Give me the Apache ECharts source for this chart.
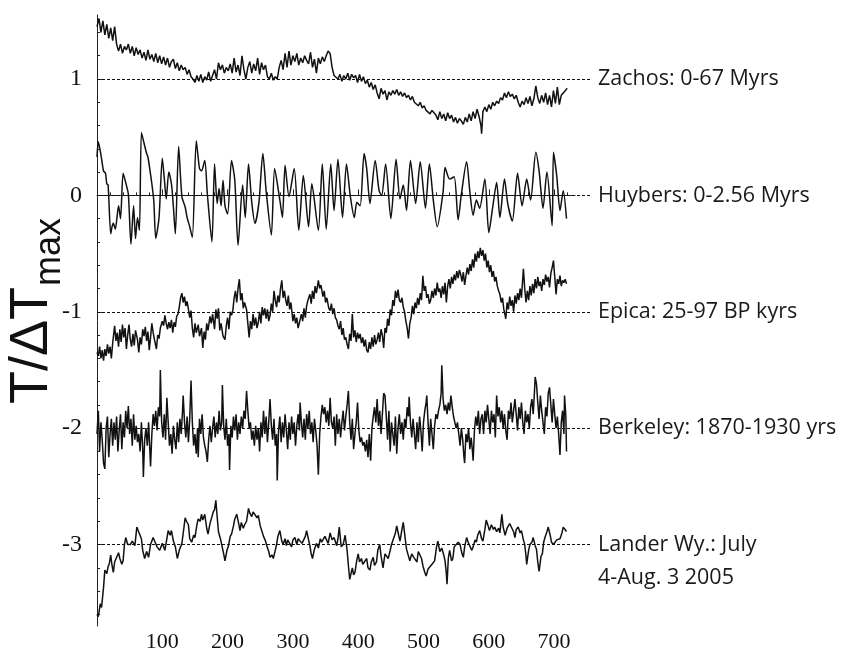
<!DOCTYPE html>
<html><head><meta charset="utf-8">
<script src="https://cdn.jsdelivr.net/npm/echarts@6/dist/echarts.min.js"></script>
<style>html,body{margin:0;padding:0;background:#fff}#c{width:841px;height:657px}</style>
</head><body><div id="c"></div><script>
const seriesNames = ['Zachos: 0-67 Myrs','Huybers: 0-2.56 Myrs','Epica: 25-97 BP kyrs','Berkeley: 1870-1930 yrs',' \nLander Wy.: July\n4-Aug. 3 2005'];
const refLevels = [1, 0, -1, -2, -3];
const xTickLabels = [100, 200, 300, 400, 500, 600, 700];
const yTickLabels = [1, 0, -1, -2, -3];

const zachos = [[0,1.45],[3,1.52],[6,1.40],[9,1.50],[12,1.38],[15,1.47],[18,1.35],[21,1.44],[24,1.33],[27,1.45],[30,1.30],[33,1.24],[36,1.30],[39,1.22],[42,1.28],[45,1.25],[48,1.30],[51,1.22],[54,1.28],[57,1.20],[60,1.27],[63,1.21],[66,1.25],[69,1.18],[72,1.23],[75,1.16],[78,1.25],[81,1.17],[84,1.21],[87,1.15],[90,1.22],[93,1.14],[96,1.20],[99,1.13],[102,1.19],[105,1.12],[108,1.18],[111,1.10],[114,1.15],[117,1.17],[120,1.09],[123,1.14],[126,1.07],[129,1.12],[132,1.08],[135,1.10],[138,1.04],[141,1.08],[144,1.02],[147,1.00],[150,0.97],[153,1.03],[156,0.98],[159,1.04],[162,0.97],[165,1.02],[168,0.99],[171,1.06],[174,0.98],[177,1.03],[180,1.08],[183,1.00],[186,1.14],[189,1.08],[192,1.12],[195,1.05],[198,1.10],[201,1.07],[204,1.13],[207,1.05],[210,1.18],[213,1.06],[216,1.12],[219,1.03],[222,1.20],[225,1.08],[228,1.00],[231,1.10],[234,1.15],[237,1.05],[240,1.13],[243,1.07],[246,1.18],[249,1.04],[252,1.14],[255,1.08],[258,1.12],[261,1.02],[264,1.00],[267,1.05],[270,0.99],[273,1.02],[276,1.00],[279,1.10],[282,1.16],[285,1.08],[288,1.22],[291,1.10],[294,1.24],[297,1.12],[300,1.20],[303,1.15],[306,1.22],[309,1.12],[312,1.18],[315,1.14],[318,1.20],[321,1.16],[324,1.13],[327,1.23],[330,1.10],[333,1.17],[336,1.05],[339,1.18],[342,1.13],[345,1.19],[348,1.15],[351,1.20],[354,1.24],[357,1.22],[360,1.10],[363,1.03],[366,1.02],[369,1.00],[372,1.04],[375,0.98],[378,1.03],[381,1.00],[384,1.05],[387,0.99],[390,1.04],[393,1.01],[396,1.03],[399,0.97],[402,1.04],[405,0.98],[408,1.02],[411,0.96],[414,0.99],[417,0.93],[420,0.97],[423,0.91],[426,0.95],[429,0.88],[432,0.83],[435,0.92],[438,0.87],[441,0.90],[444,0.82],[447,0.89],[450,0.86],[453,0.90],[456,0.87],[459,0.91],[462,0.86],[465,0.89],[468,0.85],[471,0.88],[474,0.84],[477,0.86],[480,0.82],[483,0.85],[486,0.80],[489,0.81],[492,0.77],[495,0.80],[498,0.75],[501,0.77],[504,0.73],[507,0.74],[510,0.70],[513,0.73],[516,0.71],[519,0.69],[522,0.65],[525,0.72],[528,0.66],[531,0.70],[534,0.64],[537,0.71],[540,0.66],[543,0.69],[546,0.63],[549,0.67],[552,0.62],[555,0.66],[558,0.64],[561,0.61],[564,0.67],[567,0.63],[570,0.70],[573,0.64],[576,0.72],[579,0.66],[582,0.74],[585,0.68],[588,0.60],[589,0.53],[591,0.72],[594,0.76],[597,0.72],[600,0.78],[603,0.74],[606,0.80],[609,0.77],[612,0.81],[615,0.79],[618,0.84],[621,0.82],[624,0.88],[627,0.84],[630,0.89],[633,0.85],[636,0.87],[639,0.83],[642,0.86],[645,0.80],[648,0.76],[651,0.81],[654,0.78],[657,0.84],[660,0.79],[663,0.85],[666,0.77],[669,0.83],[672,0.94],[675,0.84],[678,0.79],[681,0.86],[684,0.80],[687,0.88],[690,0.78],[693,0.86],[696,0.76],[699,0.90],[702,0.79],[705,0.93],[708,0.78],[711,0.86],[714,0.88],[717,0.90],[720,0.92]];

const huybers = [[0,0.33],[2,0.46],[6,0.35],[10,0.21],[13,0.19],[15,0.10],[17,0.09],[21,-0.33],[23,-0.27],[25,-0.24],[28,-0.29],[33,-0.09],[36,-0.20],[40,0.19],[44,0.11],[48,0.01],[52,-0.42],[56,-0.09],[59,-0.37],[62,-0.19],[65,-0.30],[68,0.54],[72,0.45],[76,0.36],[78,0.33],[81,0.22],[84,0.10],[87,-0.05],[90,-0.37],[95,-0.19],[100,0.32],[103,0.15],[106,-0.03],[110,0.20],[114,0.10],[117,-0.10],[120,-0.33],[125,0.42],[130,-0.01],[135,-0.10],[138,-0.19],[142,-0.27],[146,-0.36],[152,0.47],[157,0.23],[160,0.21],[165,0.30],[169,0.01],[176,-0.40],[180,0.27],[184,-0.07],[187,0.06],[190,-0.09],[193,0.13],[196,-0.09],[200,-0.16],[206,0.30],[211,0.13],[216,-0.43],[223,0.09],[227,-0.19],[232,0.27],[237,-0.06],[242,-0.24],[248,-0.06],[254,0.36],[259,0.04],[267,-0.34],[272,0.23],[280,-0.04],[284,-0.19],[288,0.26],[294,-0.01],[302,0.23],[309,-0.30],[316,0.17],[324,-0.27],[329,0.10],[339,-0.30],[345,0.27],[351,-0.29],[358,0.27],[363,-0.13],[369,0.31],[376,-0.19],[382,0.27],[388,-0.01],[394,-0.19],[398,-0.06],[403,-0.09],[409,0.36],[413,0.23],[418,-0.07],[426,0.30],[432,0.04],[436,0.00],[442,0.27],[450,-0.20],[458,0.31],[464,-0.03],[469,0.09],[474,-0.13],[480,0.30],[488,-0.07],[495,0.29],[503,-0.11],[509,0.27],[515,-0.04],[521,-0.27],[530,0.03],[533,0.24],[540,0.14],[547,0.16],[553,-0.21],[558,0.01],[566,0.29],[571,0.03],[576,-0.17],[581,-0.04],[586,-0.11],[594,0.14],[600,-0.32],[606,-0.10],[612,0.11],[617,-0.19],[624,0.14],[629,-0.07],[636,-0.22],[644,0.19],[651,-0.09],[658,0.14],[664,-0.04],[672,0.37],[677,0.21],[683,-0.11],[689,0.20],[697,-0.26],[699,0.37],[704,0.17],[709,-0.13],[714,0.04],[719,-0.20]];

const epica = [[0,-1.35],[2,-1.38],[4,-1.30],[6,-1.40],[8,-1.33],[10,-1.42],[12,-1.32],[14,-1.38],[16,-1.28],[18,-1.36],[20,-1.30],[22,-1.40],[24,-1.27],[27,-1.12],[29,-1.25],[31,-1.18],[33,-1.30],[35,-1.15],[37,-1.26],[39,-1.11],[41,-1.22],[43,-1.14],[45,-1.32],[47,-1.20],[49,-1.11],[51,-1.24],[53,-1.30],[55,-1.19],[57,-1.29],[59,-1.16],[62,-1.24],[64,-1.35],[66,-1.22],[68,-1.28],[70,-1.15],[72,-1.21],[74,-1.13],[76,-1.25],[78,-1.17],[80,-1.33],[82,-1.22],[84,-1.10],[86,-1.18],[88,-1.24],[91,-1.32],[93,-1.20],[95,-1.23],[97,-1.14],[100,-1.08],[102,-1.12],[104,-1.03],[106,-1.10],[108,-1.15],[110,-1.09],[112,-1.14],[114,-1.07],[116,-1.18],[118,-1.09],[120,-1.13],[122,-1.04],[124,-1.02],[126,-0.96],[128,-0.88],[130,-0.84],[132,-0.92],[134,-0.87],[136,-0.95],[138,-0.91],[140,-0.98],[142,-1.05],[144,-0.99],[146,-1.14],[148,-1.22],[150,-1.10],[152,-1.18],[155,-1.11],[157,-1.21],[160,-1.14],[162,-1.31],[164,-1.17],[166,-1.24],[168,-1.10],[170,-1.16],[173,-1.04],[175,-1.10],[177,-1.02],[180,-1.15],[182,-0.98],[184,-1.06],[186,-0.97],[188,-1.16],[190,-1.10],[193,-1.21],[196,-1.24],[198,-1.12],[200,-1.05],[202,-1.15],[204,-1.00],[206,-1.03],[208,-0.99],[210,-0.88],[212,-0.82],[214,-0.92],[216,-0.80],[218,-0.72],[220,-0.90],[222,-0.84],[224,-0.97],[226,-0.92],[229,-0.98],[231,-1.10],[233,-1.22],[235,-1.08],[237,-1.15],[239,-1.02],[241,-1.12],[243,-1.05],[245,-1.14],[247,-1.09],[249,-1.00],[251,-1.10],[253,-0.96],[255,-1.03],[257,-0.97],[259,-1.06],[261,-0.98],[263,-1.08],[265,-1.03],[267,-0.93],[269,-1.00],[271,-0.82],[273,-0.90],[275,-0.96],[277,-0.86],[279,-0.92],[281,-0.80],[283,-0.73],[285,-0.88],[287,-0.82],[289,-0.90],[291,-0.95],[293,-0.86],[295,-0.98],[297,-0.92],[300,-1.08],[302,-1.02],[304,-1.10],[306,-1.05],[308,-1.14],[311,-1.13],[313,-1.02],[315,-1.08],[317,-0.97],[319,-1.05],[321,-0.95],[323,-0.90],[326,-0.85],[328,-0.93],[330,-0.82],[332,-0.89],[334,-0.78],[336,-0.84],[339,-0.73],[341,-0.80],[343,-0.77],[346,-0.87],[348,-0.82],[350,-0.92],[352,-0.88],[355,-0.97],[357,-0.99],[359,-0.93],[361,-1.02],[363,-0.97],[365,-1.05],[367,-1.07],[369,-1.12],[371,-1.15],[373,-1.08],[375,-1.20],[377,-1.14],[379,-1.24],[381,-1.22],[383,-1.28],[385,-1.32],[387,-1.19],[389,-1.25],[391,-1.02],[393,-1.22],[395,-1.16],[397,-1.26],[399,-1.18],[401,-1.23],[403,-1.19],[405,-1.27],[407,-1.22],[409,-1.30],[411,-1.24],[413,-1.33],[415,-1.35],[417,-1.26],[419,-1.32],[421,-1.22],[423,-1.30],[425,-1.20],[427,-1.28],[429,-1.24],[431,-1.18],[433,-1.26],[435,-1.15],[437,-1.20],[439,-1.31],[441,-1.14],[443,-1.18],[445,-1.06],[447,-1.12],[449,-0.98],[451,-1.03],[453,-0.90],[455,-0.95],[457,-0.82],[459,-0.88],[461,-0.81],[463,-0.90],[465,-0.92],[467,-0.88],[469,-0.96],[471,-1.00],[473,-1.08],[475,-1.14],[477,-1.23],[479,-1.10],[481,-1.05],[483,-0.95],[485,-1.02],[487,-0.92],[489,-0.97],[491,-0.88],[493,-0.94],[495,-0.84],[497,-0.90],[499,-0.69],[501,-0.82],[503,-0.78],[505,-0.88],[507,-0.85],[509,-0.93],[511,-0.90],[513,-0.82],[515,-0.88],[517,-0.80],[519,-0.86],[521,-0.75],[523,-0.83],[525,-0.80],[527,-0.88],[529,-0.78],[531,-0.85],[533,-0.75],[535,-0.92],[537,-0.78],[539,-0.72],[541,-0.80],[543,-0.70],[545,-0.76],[547,-0.68],[549,-0.73],[551,-0.65],[553,-0.71],[555,-0.64],[557,-0.68],[559,-0.74],[561,-0.66],[563,-0.77],[565,-0.69],[567,-0.62],[569,-0.68],[571,-0.59],[573,-0.65],[575,-0.55],[577,-0.62],[579,-0.50],[581,-0.57],[583,-0.48],[585,-0.54],[587,-0.45],[589,-0.52],[591,-0.47],[593,-0.56],[595,-0.50],[597,-0.62],[599,-0.56],[601,-0.66],[603,-0.60],[605,-0.70],[607,-0.65],[609,-0.74],[611,-0.70],[613,-0.78],[615,-0.82],[617,-0.85],[619,-0.92],[621,-0.88],[623,-0.98],[625,-1.03],[626,-1.06],[628,-0.92],[630,-0.98],[632,-0.87],[634,-0.95],[636,-0.90],[638,-1.00],[640,-0.86],[642,-0.93],[644,-0.84],[646,-0.90],[648,-0.80],[650,-0.88],[653,-0.63],[655,-0.80],[657,-0.92],[659,-0.82],[661,-0.90],[663,-0.78],[665,-0.86],[667,-0.76],[669,-0.84],[671,-0.72],[673,-0.80],[675,-0.70],[677,-0.78],[679,-0.74],[681,-0.82],[683,-0.72],[685,-0.77],[687,-0.68],[689,-0.74],[691,-0.70],[693,-0.79],[695,-0.67],[697,-0.62],[699,-0.56],[701,-0.70],[703,-0.85],[705,-0.72],[707,-0.76],[709,-0.69],[711,-0.78],[713,-0.73],[715,-0.75],[717,-0.72],[719,-0.76]];

const berkeley = [[0,-2.05],[2,-1.85],[4,-2.20],[6,-1.95],[8,-2.10],[10,-2.30],[12,-2.35],[14,-2.00],[16,-1.90],[18,-2.25],[20,-2.05],[22,-1.92],[24,-2.15],[26,-1.95],[28,-2.10],[30,-1.90],[32,-2.20],[34,-2.02],[36,-1.88],[38,-2.18],[40,-1.95],[42,-2.08],[44,-1.85],[46,-2.00],[48,-1.81],[50,-2.05],[52,-1.92],[54,-2.15],[56,-1.88],[58,-2.10],[60,-1.98],[62,-2.12],[64,-2.05],[66,-2.20],[68,-1.95],[70,-2.18],[71,-2.42],[73,-2.10],[75,-2.00],[77,-2.15],[79,-1.95],[81,-2.20],[82,-2.33],[84,-2.05],[86,-1.88],[88,-1.98],[90,-1.85],[92,-2.02],[94,-1.82],[96,-1.90],[97,-1.50],[99,-1.95],[101,-2.08],[103,-1.88],[105,-2.10],[107,-1.74],[109,-1.95],[111,-2.15],[113,-2.05],[115,-2.22],[117,-1.98],[119,-2.10],[121,-2.18],[123,-1.95],[125,-2.12],[127,-1.92],[129,-2.05],[131,-1.85],[132,-1.72],[134,-1.95],[136,-2.08],[138,-1.90],[140,-2.12],[142,-1.92],[144,-1.59],[146,-1.95],[148,-2.15],[150,-2.05],[152,-2.22],[154,-2.00],[155,-2.25],[157,-1.92],[159,-2.05],[161,-1.88],[163,-2.08],[165,-2.15],[167,-2.20],[169,-2.29],[171,-2.10],[173,-1.98],[175,-2.12],[177,-2.00],[179,-1.90],[181,-2.08],[183,-1.95],[185,-2.05],[187,-1.85],[189,-2.02],[191,-1.95],[192,-1.63],[194,-1.98],[196,-2.10],[198,-1.92],[200,-2.15],[202,-2.05],[203,-2.36],[205,-1.98],[207,-2.08],[209,-1.90],[211,-2.02],[213,-1.88],[215,-2.10],[217,-1.95],[219,-2.05],[221,-1.90],[223,-2.00],[225,-1.85],[227,-1.92],[229,-1.68],[231,-1.85],[233,-2.00],[235,-1.95],[237,-2.10],[239,-2.02],[241,-2.15],[243,-1.98],[245,-2.10],[247,-2.00],[249,-2.20],[251,-1.95],[253,-2.08],[255,-1.85],[257,-2.05],[259,-1.90],[261,-2.12],[263,-1.95],[265,-1.75],[267,-1.98],[269,-2.10],[271,-1.92],[273,-2.15],[275,-2.05],[276,-2.45],[278,-2.02],[280,-1.90],[282,-2.12],[284,-1.95],[286,-2.08],[288,-1.88],[290,-2.02],[292,-2.18],[294,-1.95],[296,-2.10],[298,-1.90],[300,-2.05],[302,-1.95],[304,-2.15],[306,-1.98],[308,-1.88],[310,-2.02],[311,-1.78],[313,-1.95],[315,-2.08],[317,-1.92],[319,-2.10],[321,-1.88],[323,-2.00],[325,-1.85],[327,-2.05],[329,-1.95],[331,-2.12],[333,-1.92],[335,-2.02],[337,-2.15],[339,-2.40],[341,-2.05],[343,-1.90],[345,-1.80],[347,-1.88],[349,-1.82],[351,-1.95],[353,-1.85],[355,-1.98],[357,-1.74],[359,-1.95],[361,-2.00],[363,-1.90],[365,-2.15],[367,-1.88],[369,-2.05],[371,-1.92],[373,-2.08],[375,-1.95],[377,-1.85],[379,-2.02],[381,-1.90],[383,-1.80],[385,-1.68],[387,-1.95],[389,-2.10],[391,-1.92],[393,-2.18],[395,-2.05],[397,-1.95],[399,-1.78],[401,-2.02],[403,-2.12],[405,-2.08],[407,-2.15],[409,-2.12],[411,-2.20],[413,-2.10],[415,-2.25],[417,-2.05],[419,-2.28],[421,-2.00],[423,-1.90],[425,-1.82],[427,-1.95],[429,-1.75],[431,-1.98],[433,-1.85],[435,-2.05],[437,-1.88],[439,-1.70],[441,-1.72],[443,-1.90],[445,-2.10],[447,-1.85],[449,-2.20],[451,-1.95],[453,-2.05],[455,-2.15],[457,-1.90],[459,-2.22],[461,-2.00],[463,-1.88],[465,-2.05],[467,-1.95],[469,-2.10],[471,-1.92],[473,-2.00],[475,-1.82],[477,-1.90],[478,-1.73],[480,-1.95],[482,-2.08],[484,-1.92],[486,-2.05],[488,-2.18],[490,-1.95],[492,-2.12],[494,-1.90],[496,-2.02],[498,-2.20],[500,-1.95],[502,-1.85],[504,-1.78],[505,-1.72],[507,-1.95],[509,-2.15],[511,-1.92],[513,-2.05],[515,-2.18],[517,-1.98],[519,-1.88],[521,-1.92],[523,-1.85],[525,-1.80],[527,-1.70],[528,-1.46],[530,-1.75],[532,-1.85],[534,-1.80],[536,-1.88],[538,-1.78],[540,-1.85],[542,-1.72],[544,-1.82],[546,-1.90],[548,-1.95],[550,-2.00],[552,-1.95],[554,-2.05],[556,-2.15],[558,-2.00],[560,-2.10],[562,-2.25],[563,-2.30],[565,-2.05],[567,-2.12],[569,-2.00],[571,-2.18],[573,-2.08],[575,-2.20],[576,-2.28],[578,-2.02],[580,-1.90],[582,-1.98],[584,-1.85],[586,-2.05],[588,-1.92],[590,-1.88],[592,-2.05],[594,-1.85],[596,-1.95],[598,-1.80],[600,-1.92],[602,-2.05],[604,-1.85],[606,-1.95],[608,-1.88],[610,-2.08],[612,-1.72],[614,-1.90],[616,-1.82],[618,-1.95],[620,-1.85],[622,-2.00],[624,-1.88],[626,-2.02],[628,-2.10],[630,-1.85],[632,-1.92],[634,-1.78],[636,-1.95],[638,-1.85],[640,-1.75],[642,-1.88],[644,-2.02],[646,-1.82],[648,-1.92],[650,-1.78],[652,-1.95],[654,-2.05],[656,-1.85],[658,-1.95],[660,-1.88],[662,-2.00],[664,-1.82],[666,-1.75],[668,-1.88],[670,-1.68],[671,-1.56],[673,-1.62],[675,-1.78],[677,-1.92],[679,-1.72],[681,-1.85],[683,-1.95],[685,-2.05],[687,-1.82],[689,-1.90],[691,-1.70],[693,-1.65],[695,-1.80],[697,-1.95],[699,-1.75],[701,-1.88],[703,-2.00],[705,-1.90],[707,-2.05],[709,-2.23],[711,-1.95],[713,-1.85],[715,-2.05],[716,-1.72],[718,-1.90],[719,-2.20]];

const lander = [[0,-3.60],[2,-3.62],[5,-3.51],[7,-3.54],[10,-3.37],[12,-3.22],[15,-3.25],[17,-3.19],[19,-3.16],[21,-3.09],[23,-3.18],[25,-3.24],[27,-3.15],[30,-3.14],[33,-3.07],[35,-3.12],[38,-3.17],[40,-3.14],[42,-3.00],[44,-2.94],[47,-3.00],[51,-3.00],[54,-2.97],[58,-3.01],[61,-2.85],[63,-2.88],[66,-2.88],[68,-2.95],[70,-3.05],[73,-3.12],[76,-3.06],[79,-3.11],[82,-3.00],[86,-2.94],[89,-2.98],[92,-3.02],[96,-3.05],[100,-2.99],[104,-3.05],[107,-2.95],[109,-2.88],[112,-2.92],[114,-2.88],[117,-2.97],[120,-3.02],[123,-3.12],[126,-3.05],[130,-2.99],[133,-2.86],[135,-2.77],[137,-2.80],[140,-2.83],[142,-2.95],[145,-2.98],[148,-2.92],[150,-2.94],[153,-2.83],[155,-2.78],[158,-2.80],[160,-2.74],[162,-2.79],[165,-2.74],[168,-2.86],[170,-2.91],[173,-2.82],[175,-2.81],[178,-2.72],[180,-2.70],[182,-2.62],[184,-2.76],[186,-2.89],[189,-2.95],[191,-2.94],[194,-3.08],[196,-3.14],[199,-3.05],[201,-3.02],[204,-2.93],[206,-2.91],[209,-2.84],[211,-2.78],[214,-2.74],[217,-2.82],[219,-2.88],[221,-2.81],[224,-2.86],[226,-2.83],[229,-2.80],[232,-2.69],[234,-2.73],[237,-2.76],[239,-2.72],[242,-2.72],[245,-2.77],[247,-2.75],[250,-2.84],[252,-2.85],[255,-2.93],[258,-2.97],[260,-3.01],[263,-3.06],[265,-3.11],[268,-3.09],[270,-3.12],[273,-3.05],[275,-3.00],[277,-2.93],[280,-2.88],[283,-2.97],[285,-3.00],[288,-2.95],[290,-3.01],[292,-2.96],[295,-2.97],[298,-3.02],[300,-2.96],[303,-2.94],[306,-3.00],[308,-2.95],[311,-2.94],[314,-2.99],[316,-3.00],[319,-2.93],[321,-2.88],[324,-2.96],[326,-3.01],[328,-3.08],[330,-3.12],[333,-3.04],[336,-2.99],[339,-3.03],[342,-2.95],[344,-2.98],[346,-2.97],[349,-2.93],[351,-2.94],[354,-2.99],[357,-2.90],[360,-2.96],[363,-2.94],[367,-3.01],[369,-2.95],[371,-2.85],[374,-3.02],[377,-3.00],[380,-2.92],[383,-3.05],[385,-3.18],[387,-3.30],[389,-3.25],[391,-3.20],[393,-3.26],[395,-3.24],[398,-3.13],[400,-3.08],[402,-3.15],[405,-3.12],[407,-3.17],[410,-3.16],[413,-3.12],[415,-3.20],[418,-3.22],[420,-3.15],[423,-3.11],[425,-3.18],[428,-3.15],[430,-3.05],[433,-3.00],[435,-3.10],[438,-3.20],[441,-3.08],[443,-3.07],[446,-3.12],[449,-3.05],[451,-3.00],[454,-2.95],[457,-2.90],[459,-2.84],[462,-2.92],[464,-2.97],[467,-2.87],[469,-2.81],[472,-2.95],[474,-3.04],[477,-3.10],[479,-3.14],[482,-3.08],[485,-3.11],[488,-3.10],[490,-3.15],[492,-3.06],[494,-3.05],[497,-3.12],[499,-3.18],[502,-3.24],[504,-3.27],[507,-3.21],[510,-3.20],[513,-3.17],[517,-3.14],[520,-3.02],[522,-2.97],[525,-3.06],[528,-3.03],[531,-3.09],[533,-3.14],[535,-3.25],[536,-3.34],[538,-3.12],[540,-3.05],[543,-3.14],[545,-3.12],[547,-3.02],[550,-3.02],[553,-2.98],[556,-3.00],[559,-3.08],[561,-3.11],[563,-3.02],[566,-2.94],[569,-2.99],[571,-2.98],[574,-3.05],[576,-3.02],[579,-2.96],[581,-2.98],[583,-2.92],[586,-2.88],[589,-2.95],[591,-2.97],[594,-2.87],[596,-2.79],[599,-2.84],[601,-2.88],[604,-2.83],[607,-2.87],[609,-2.85],[612,-2.89],[615,-2.86],[617,-2.90],[620,-2.74],[622,-2.85],[625,-2.92],[628,-2.86],[630,-2.87],[632,-2.82],[635,-2.83],[638,-2.89],[640,-2.94],[642,-2.87],[645,-2.85],[648,-2.90],[650,-2.88],[653,-2.96],[655,-3.00],[657,-3.10],[658,-3.17],[661,-3.05],[663,-3.00],[666,-2.98],[668,-2.94],[671,-3.01],[673,-3.04],[675,-3.15],[677,-3.23],[680,-3.10],[682,-3.08],[684,-2.98],[686,-2.94],[689,-2.89],[691,-2.85],[694,-2.92],[696,-2.98],[699,-3.00],[701,-3.01],[704,-2.96],[707,-2.95],[709,-2.95],[712,-2.90],[714,-2.85],[716,-2.84],[718,-2.88],[719,-2.89]];

const allSeries = [zachos, huybers, epica, berkeley, lander];
const smoothing = [0, 0.25, 0, 0, 0];

const xMinorTicks = [];
for (let v = 20; v <= 720; v += 20) if (v % 100 !== 0) xMinorTicks.push(v);
const yMinorTicks = [];
for (let k = -18; k <= 7; k++) if (k % 5 !== 0) yMinorTicks.push(+(k * 0.2).toFixed(1));

const chart = echarts.init(document.getElementById('c'), null, {renderer: 'canvas'});
const serifFont = 'Liberation Serif';
const axisCol = '#222';

const cv = document.createElement('canvas').getContext('2d');
const titleFont = 54, subFont = 36;
cv.font = titleFont + 'px "Liberation Sans"';
const mainW = cv.measureText('T/\u0394T').width;

const lineSeries = allSeries.map((d, i) => ({
  type: 'line', name: seriesNames[i], data: d, xAxisIndex: 0, yAxisIndex: 0,
  showSymbol: false, symbol: 'none', smooth: smoothing[i],
  lineStyle: {color: '#111', width: 1.5}, silent: true
}));

const refData = refLevels.map((v, i) => ({yAxis: v, name: seriesNames[i]}));

chart.setOption({
  animation: false,
  backgroundColor: '#fff',
  grid: [
    {left: 97, top: 15, width: 478, height: 611},
    {left: 97, top: 15, width: 495, height: 611}
  ],
  xAxis: [
    {gridIndex: 0, type: 'value', min: 0, max: 732, position: 'bottom',
     axisLine: {lineStyle: {color: axisCol, width: 1}},
     axisTick: {inside: true, length: 6, customValues: xTickLabels, lineStyle: {color: axisCol}},
     axisLabel: {customValues: xTickLabels, fontFamily: serifFont, fontSize: 22, color: '#111', margin: 5},
     splitLine: {show: false}},
    {gridIndex: 0, type: 'value', min: 0, max: 732, position: 'bottom',
     axisLine: {show: false},
     axisTick: {inside: true, length: 3, customValues: xMinorTicks, lineStyle: {color: axisCol}},
     axisLabel: {show: false}, splitLine: {show: false}},
    {gridIndex: 1, type: 'value', min: 0, max: 758, show: false}
  ],
  yAxis: [
    {gridIndex: 0, type: 'value', min: -3.7, max: 1.55, position: 'left',
     axisLine: {show: true, lineStyle: {color: axisCol, width: 1}},
     axisTick: {show: true, inside: true, length: 6, customValues: yTickLabels, lineStyle: {color: axisCol}},
     axisLabel: {customValues: yTickLabels, fontFamily: serifFont, fontSize: 24, color: '#111', margin: 15,
                 formatter: v => String(v)},
     splitLine: {show: false}},
    {gridIndex: 0, type: 'value', min: -3.7, max: 1.55, position: 'left',
     axisLine: {show: false},
     axisTick: {show: true, inside: true, length: 3, customValues: yMinorTicks, lineStyle: {color: axisCol}},
     axisLabel: {show: false}, splitLine: {show: false}},
    {gridIndex: 1, type: 'value', min: -3.7, max: 1.55, show: false}
  ],
  series: lineSeries.concat([{
    type: 'line', xAxisIndex: 2, yAxisIndex: 2, data: [], silent: true,
    markLine: {
      symbol: 'none', silent: true, animation: false,
      lineStyle: {color: '#111', width: 1, type: [3, 2]},
      label: {show: true, position: 'end', distance: 6, formatter: '{b}',
              fontFamily: 'Open Sans', fontSize: 21.5, lineHeight: 33, color: '#1a1a1a', align: 'left'},
      emphasis: {disabled: true},
      data: refData
    }
  }]),
  graphic: [{
    type: 'group', x: 32, y: 404, rotation: Math.PI / 2, silent: true,
    children: [
      {type: 'text', x: 0, y: 0, style: {text: 'T/\u0394T', font: titleFont + 'px "Liberation Sans"', fill: '#111', align: 'left', verticalAlign: 'middle'}},
      {type: 'text', x: mainW + 1, y: 18, style: {text: 'max', font: subFont + 'px "Liberation Sans"', fill: '#111', align: 'left', verticalAlign: 'middle'}}
    ]
  }]
});
</script></body></html>
